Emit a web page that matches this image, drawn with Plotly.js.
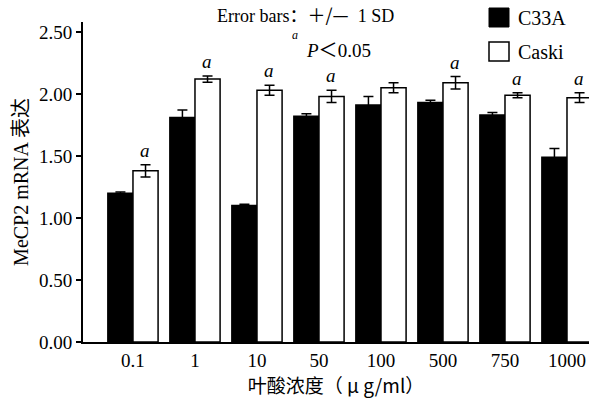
<!DOCTYPE html>
<html>
<head>
<meta charset="utf-8">
<script src="https://cdn.plot.ly/plotly-3.0.1.min.js"></script>
<style>html,body{margin:0;padding:0;background:#fff;}#chart{width:589px;height:401px;}</style>
</head>
<body>
<div id="chart"></div>
<script>
const categories = ["0.1", "1", "10", "50", "100", "500", "750", "1000"];
const c33aMean = [1.20, 1.81, 1.10, 1.82, 1.91, 1.93, 1.83, 1.49];
const c33aSD   = [0.01, 0.06, 0.01, 0.02, 0.07, 0.02, 0.02, 0.07];
const caskiMean = [1.38, 2.12, 2.03, 1.98, 2.05, 2.09, 1.99, 1.97];
const caskiSD   = [0.05, 0.025, 0.04, 0.05, 0.04, 0.05, 0.02, 0.04];
const caskiSig  = [true, true, true, true, false, true, true, true];

const W = 589, H = 401, L = 83, R = 0, T = 22, B = 59;
const pw = W - L - R, ph = H - T - B;
const px = x => (x - L) / pw;
const py = y => (H - B - y) / ph;
const serif = '"Liberation Serif", "DejaVu Serif", serif';
const cjk = '"Noto Sans CJK SC", sans-serif';
const cjkSpan = s => '<span style="font-family:\'Noto Sans CJK SC\'">' + s + '</span>';

const traces = [
  {
    type: "bar", name: "C33A", x: categories, y: c33aMean,
    marker: {color: "#000", line: {color: "#000", width: 1.5}},
    error_y: {type: "data", array: c33aSD, visible: true, color: "#000", thickness: 1.5, width: 5}
  },
  {
    type: "bar", name: "Caski", x: categories, y: caskiMean,
    marker: {color: "#fff", line: {color: "#000", width: 1.5}},
    error_y: {type: "data", array: caskiSD, visible: true, color: "#000", thickness: 1.5, width: 5}
  }
];

const annotations = [];
categories.forEach((c, i) => {
  if (caskiSig[i]) {
    annotations.push({
      x: i, y: caskiMean[i] + caskiSD[i], xref: "x", yref: "y",
      xshift: 12.5, yshift: 2, yanchor: "bottom", showarrow: false,
      text: "<i>a</i>", font: {family: serif, size: 19, color: "#000"}
    });
  }
});
annotations.push(
  {x: px(215), y: py(14), xref: "paper", yref: "paper", xanchor: "left", yanchor: "middle", showarrow: false,
   text: "Error bars" + cjkSpan("：＋/—") + "  1 SD", font: {family: serif, size: 18, color: "#000"}},
  {x: px(290), y: py(35), xref: "paper", yref: "paper", xanchor: "left", yanchor: "middle", showarrow: false,
   text: "<i>a</i>", font: {family: serif, size: 12, color: "#000"}},
  {x: px(304), y: py(49), xref: "paper", yref: "paper", xanchor: "left", yanchor: "middle", showarrow: false,
   text: "<i>P</i>" + cjkSpan("＜") + "0.05", font: {family: serif, size: 19, color: "#000"}},
  {x: px(516), y: py(18), xref: "paper", yref: "paper", xanchor: "left", yanchor: "middle", showarrow: false,
   text: "C33A", font: {family: serif, size: 20, color: "#000"}},
  {x: px(516), y: py(52), xref: "paper", yref: "paper", xanchor: "left", yanchor: "middle", showarrow: false,
   text: "Caski", font: {family: serif, size: 20, color: "#000"}}
);

const shapes = [
  {type: "rect", xref: "paper", yref: "paper", x0: px(489), x1: px(509), y0: py(27), y1: py(8),
   fillcolor: "#000", line: {color: "#000", width: 1}},
  {type: "rect", xref: "paper", yref: "paper", x0: px(489), x1: px(509), y0: py(61), y1: py(42),
   fillcolor: "#fff", line: {color: "#000", width: 1.5}}
];

const layout = {
  width: W, height: H,
  margin: {l: L, r: R, t: T, b: B, pad: 0},
  paper_bgcolor: "#fff", plot_bgcolor: "#fff",
  showlegend: false,
  barmode: "group", bargap: 0.19, bargroupgap: 0,
  xaxis: {
    type: "category", range: [-0.806, 7.355],
    showline: true, linecolor: "#000", linewidth: 2, ticks: "", showgrid: false, zeroline: false,
    tickfont: {family: serif, size: 19, color: "#000"},
    title: {text: "叶酸浓度（ μ g/ml）", font: {family: cjk, size: 19, color: "#000"}, standoff: 6}
  },
  yaxis: {
    range: [0, 2.58], tickvals: [0, 0.5, 1, 1.5, 2, 2.5], tickformat: ".2f",
    showline: true, linecolor: "#000", linewidth: 2, ticks: "outside", ticklen: 5, tickwidth: 1.5, tickcolor: "#000",
    showgrid: false, zeroline: false,
    tickfont: {family: serif, size: 19, color: "#000"},
    title: {text: "MeCP2 mRNA 表达", font: {family: serif + ", " + cjk, size: 20, color: "#000"}, standoff: 5}
  },
  annotations: annotations,
  shapes: shapes
};

Plotly.newPlot("chart", traces, layout, {displayModeBar: false, staticPlot: true});
</script>
</body>
</html>
